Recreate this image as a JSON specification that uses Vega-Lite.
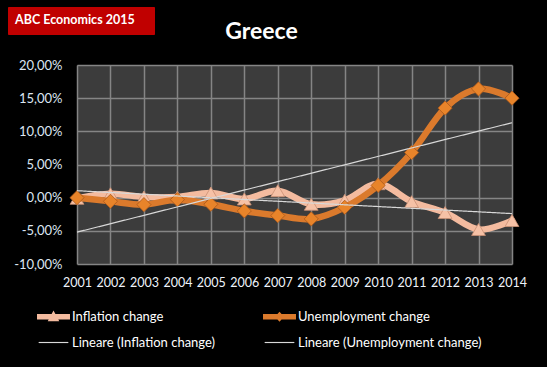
{
  "$schema": "https://vega.github.io/schema/vega-lite/v6.json",
  "background": "#000000",
  "autosize": "none",
  "width": 435,
  "height": 199,
  "padding": {"left": 77, "top": 65, "right": 35, "bottom": 103},
  "config": {
    "locale": {"number": {"decimal": ",", "thousands": ".", "grouping": [3], "currency": ["€", ""], "minus": "-"}},
    "view": {"stroke": null},
    "font": "Lato"
  },
  "title": {"text": "Greece", "color": "#ffffff", "fontSize": 23, "font": "Lato", "fontWeight": "bold", "anchor": "middle", "frame": "group", "dx": -33, "offset": -60, "baseline": "bottom"},
  "view": {"fill": "#3c3c3c", "stroke": null},
  "datasets": {
    "series": [
      {"year": 2001, "series": "Inflation change", "value": -0.001},
      {"year": 2002, "series": "Inflation change", "value": 0.006},
      {"year": 2003, "series": "Inflation change", "value": 0.001},
      {"year": 2004, "series": "Inflation change", "value": 0.001},
      {"year": 2005, "series": "Inflation change", "value": 0.007},
      {"year": 2006, "series": "Inflation change", "value": -0.002},
      {"year": 2007, "series": "Inflation change", "value": 0.0105},
      {"year": 2008, "series": "Inflation change", "value": -0.010},
      {"year": 2009, "series": "Inflation change", "value": -0.004},
      {"year": 2010, "series": "Inflation change", "value": 0.021},
      {"year": 2011, "series": "Inflation change", "value": -0.006},
      {"year": 2012, "series": "Inflation change", "value": -0.0225},
      {"year": 2013, "series": "Inflation change", "value": -0.048},
      {"year": 2014, "series": "Inflation change", "value": -0.0345},
      {"year": 2001, "series": "Unemployment change", "value": 0.000},
      {"year": 2002, "series": "Unemployment change", "value": -0.0055},
      {"year": 2003, "series": "Unemployment change", "value": -0.0105},
      {"year": 2004, "series": "Unemployment change", "value": -0.003},
      {"year": 2005, "series": "Unemployment change", "value": -0.010},
      {"year": 2006, "series": "Unemployment change", "value": -0.020},
      {"year": 2007, "series": "Unemployment change", "value": -0.027},
      {"year": 2008, "series": "Unemployment change", "value": -0.032},
      {"year": 2009, "series": "Unemployment change", "value": -0.0145},
      {"year": 2010, "series": "Unemployment change", "value": 0.0185},
      {"year": 2011, "series": "Unemployment change", "value": 0.068},
      {"year": 2012, "series": "Unemployment change", "value": 0.135},
      {"year": 2013, "series": "Unemployment change", "value": 0.164},
      {"year": 2014, "series": "Unemployment change", "value": 0.150}
    ],
    "trend": [
      {"year": 2001, "series": "Lineare (Inflation change)", "value": 0.0105},
      {"year": 2014, "series": "Lineare (Inflation change)", "value": -0.024},
      {"year": 2001, "series": "Lineare (Unemployment change)", "value": -0.052},
      {"year": 2014, "series": "Lineare (Unemployment change)", "value": 0.113}
    ]
  },
  "encoding": {
    "x": {
      "field": "year",
      "type": "quantitative",
      "scale": {"domain": [2001, 2014], "nice": false, "zero": false},
      "axis": {
        "values": [2001, 2002, 2003, 2004, 2005, 2006, 2007, 2008, 2009, 2010, 2011, 2012, 2013, 2014],
        "format": "d",
        "title": null,
        "grid": true,
        "gridColor": "#858585",
        "gridWidth": 1.5,
        "domain": false,
        "ticks": false,
        "tickSize": 0,
        "labelColor": "#eef3fa",
        "labelFontSize": 12.5,
        "labelFont": "Lato",
        "labelPadding": 12,
        "labelFlush": false,
        "labelOverlap": false
      }
    },
    "y": {
      "field": "value",
      "type": "quantitative",
      "scale": {"domain": [-0.1, 0.2], "nice": false, "zero": false},
      "axis": {
        "values": [-0.1, -0.05, 0, 0.05, 0.1, 0.15, 0.2],
        "format": ".2%",
        "title": null,
        "grid": true,
        "gridColor": "#858585",
        "gridWidth": 1.5,
        "domain": false,
        "ticks": false,
        "tickSize": 0,
        "labelColor": "#dce6f2",
        "labelFontSize": 13,
        "labelFont": "Lato",
        "labelPadding": 15
      }
    }
  },
  "layer": [
    {
      "data": {"name": "series"},
      "transform": [{"filter": "datum.series === 'Inflation change'"}],
      "mark": {"type": "line", "interpolate": "cardinal", "strokeWidth": 6.5, "strokeCap": "round", "strokeJoin": "round"},
      "encoding": {
        "color": {
          "field": "series",
          "type": "nominal",
          "scale": {
            "domain": ["Inflation change", "Unemployment change", "Lineare (Inflation change)", "Lineare (Unemployment change)"],
            "range": ["#f4bb9f", "#db7a2c", "#d8d8d8", "#d8d8d8"]
          },
          "legend": {
            "title": null,
            "orient": "none",
            "legendX": -32,
            "legendY": 243,
            "columns": 2,
            "direction": "horizontal",
            "symbolSize": 272,
            "labelOffset": 10,
            "labelColor": "#ffffff",
            "labelFontSize": 13,
            "labelFont": "Lato",
            "labelLimit": 300,
            "columnPadding": 47,
            "rowPadding": 10,
            "padding": 0,
            "encode": {
              "symbols": {
                "update": {
                  "shape": {"signal": "datum.value === 'Inflation change' ? 'M-2,-0.32H2V0.32H-2Z M0,-0.75L0.7,0.55H-0.7Z' : (datum.value === 'Unemployment change' ? 'M-2,-0.32H2V0.32H-2Z M0,-0.6L0.55,0L0,0.6L-0.55,0Z' : 'M-1.8,-0.07H1.8V0.07H-1.8Z')"},
                  "fill": {"scale": "color", "field": "value"},
                  "strokeWidth": {"value": 0},
                  "opacity": {"value": 1}
                }
              }
            }
          }
        }
      }
    },
    {
      "data": {"name": "series"},
      "transform": [{"filter": "datum.series === 'Inflation change'"}],
      "mark": {"type": "point", "shape": "triangle-up", "filled": true, "size": 190, "color": "#f6c1a6", "stroke": "#c98f74", "strokeWidth": 0.8, "opacity": 1}
    },
    {
      "data": {"name": "series"},
      "transform": [{"filter": "datum.series === 'Unemployment change'"}],
      "mark": {"type": "line", "interpolate": "cardinal", "strokeWidth": 6.5, "strokeCap": "round", "strokeJoin": "round"},
      "encoding": {"color": {"field": "series", "type": "nominal"}}
    },
    {
      "data": {"name": "series"},
      "transform": [{"filter": "datum.series === 'Unemployment change'"}],
      "mark": {"type": "point", "shape": "diamond", "filled": true, "size": 200, "color": "#e8842a", "stroke": "#a9581a", "strokeWidth": 0.8, "opacity": 1}
    },
    {
      "data": {"name": "trend"},
      "mark": {"type": "line", "strokeWidth": 1.2},
      "encoding": {
        "color": {"field": "series", "type": "nominal"},
        "strokeDash": {
          "datum": "ABC Economics 2015",
          "type": "nominal",
          "scale": {"range": [[1, 0]]},
          "legend": {
            "title": "ABC Economics 2015",
            "titleOrient": "left",
            "titleColor": "#ffffff",
            "titleFont": "Lato",
            "titleFontSize": 12.5,
            "titleFontWeight": "bold",
            "titlePadding": 0,
            "labelExpr": "''",
            "labelOffset": 0,
            "symbolSize": 100,
            "symbolOpacity": 0,
            "padding": 7,
            "fillColor": "#c00000",
            "strokeColor": "#c00000",
            "orient": "none",
            "legendX": -69,
            "legendY": -58
          }
        }
      }
    }
  ]
}
